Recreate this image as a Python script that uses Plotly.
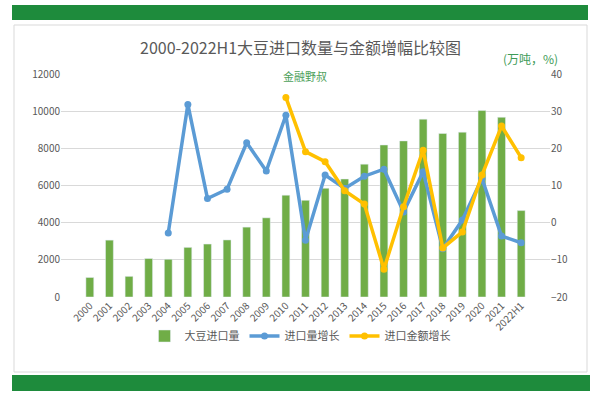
import plotly.graph_objects as go

years = ["2000","2001","2002","2003","2004","2005","2006","2007","2008","2009","2010",
         "2011","2012","2013","2014","2015","2016","2017","2018","2019","2020","2021","2022H1"]
imports = [1050, 3060, 1110, 2070, 2030, 2670, 2850, 3070, 3760, 4260, 5480,
           5200, 5850, 6350, 7150, 8180, 8400, 9570, 8800, 8870, 10040, 9670, 4650]
vol_growth = [None, None, None, None, -2.8, 31.8, 6.5, 9.0, 21.5, 13.9, 28.9,
              -4.7, 12.8, 9.2, 12.5, 14.4, 2.9, 13.7, -7.0, 0.7, 11.9, -3.6, -5.4]
val_growth = [None, None, None, None, None, None, None, None, None, None, 33.7,
              19.1, 16.4, 8.6, 5.0, -12.5, 4.3, 19.5, -6.8, -2.5, 12.8, 26.0, 17.5]

FONT = "Noto Sans CJK SC"
GRAY = "#595959"
L, R, T, B = 61, 550, 74, 297
W, H = R - L, B - T


def px(x):
    return (x - L) / W


def py(y):
    return (B - y) / H


fig = go.Figure()
fig.add_trace(go.Bar(x=years, y=imports, name="大豆进口量", marker_color="#70AD47",
                     yaxis="y"))
fig.add_trace(go.Scatter(x=years, y=vol_growth, name="进口量增长", mode="lines+markers",
                         line=dict(color="#5B9BD5", width=3.5),
                         marker=dict(size=7, color="#5B9BD5"), yaxis="y2"))
fig.add_trace(go.Scatter(x=years, y=val_growth, name="进口金额增长", mode="lines+markers",
                         line=dict(color="#FFC000", width=3.5),
                         marker=dict(size=7, color="#FFC000"), yaxis="y2"))

fig.update_layout(
    width=600, height=394,
    paper_bgcolor="white", plot_bgcolor="white",
    margin=dict(l=L, r=600 - R, t=T, b=394 - B, autoexpand=False),
    font=dict(family=FONT, color=GRAY, size=10),
    bargap=0.6,
    showlegend=True,
    legend=dict(orientation="h", x=px(300), xanchor="center", y=py(336), yanchor="middle",
                font=dict(size=11, color=GRAY), bgcolor="rgba(0,0,0,0)"),
    xaxis=dict(tickangle=-45, showgrid=False, showline=False, ticks="",
               tickfont=dict(size=10, color=GRAY), automargin=False),
    yaxis=dict(range=[0, 12000], dtick=2000, tickformat="d", showgrid=True,
               gridcolor="#D9D9D9", zeroline=False, showline=False, ticks="",
               tickfont=dict(size=10, color=GRAY), automargin=False),
    yaxis2=dict(range=[-20, 40], dtick=10, overlaying="y", side="right",
                showgrid=False, zeroline=False, showline=False, automargin=False,
                tickfont=dict(size=10, color=GRAY)),
    annotations=[
        dict(text="2000-2022H1大豆进口数量与金额增幅比较图", xref="paper", yref="paper",
             x=px(300), y=py(47), xanchor="center", yanchor="middle",
             showarrow=False, font=dict(size=16, color=GRAY, family=FONT)),
        dict(text="(万吨，%)", xref="paper", yref="paper",
             x=px(530), y=py(58), xanchor="center", yanchor="middle",
             showarrow=False, font=dict(size=12, color="#3E9B57", family=FONT)),
        dict(text="金融野叔", xref="paper", yref="paper",
             x=px(305), y=py(76), xanchor="center", yanchor="middle",
             showarrow=False, font=dict(size=11, color="#4CA05A", family=FONT)),
    ],
    shapes=[
        dict(type="rect", xref="paper", yref="paper",
             x0=px(14), x1=px(587), y0=py(372), y1=py(25),
             line=dict(color="#D9D9D9", width=1), fillcolor="rgba(0,0,0,0)", layer="below"),
        dict(type="rect", xref="paper", yref="paper",
             x0=px(12), x1=px(588), y0=py(20), y1=py(5),
             line=dict(width=0), fillcolor="#1E8B3C", layer="below"),
        dict(type="rect", xref="paper", yref="paper",
             x0=px(12), x1=px(590), y0=py(391), y1=py(375),
             line=dict(width=0), fillcolor="#1E8B3C", layer="below"),
    ],
)

fig.write_html("out.html", config={"displayModeBar": False},
               post_script="document.body.style.margin='0';document.body.style.overflow='hidden';")
